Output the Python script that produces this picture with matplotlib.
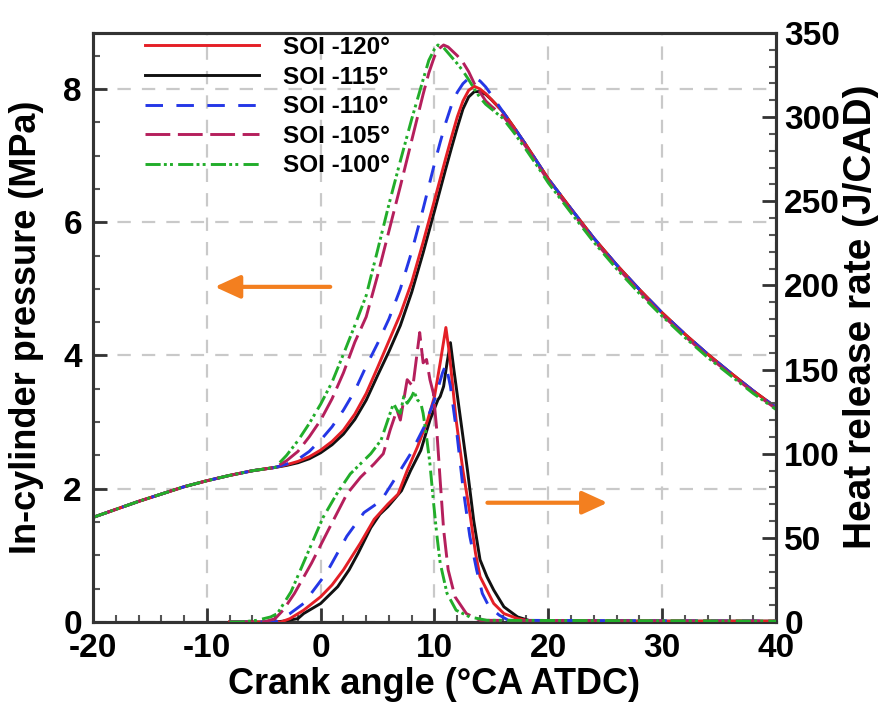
import matplotlib
matplotlib.use("Agg")
import matplotlib.pyplot as plt
from matplotlib.ticker import MultipleLocator

plt.rcParams['font.family'] = ['Liberation Sans', 'DejaVu Sans']
plt.rcParams['font.weight'] = 'bold'
plt.rcParams['axes.unicode_minus'] = False

# ---------------- data ----------------
labels = ["SOI -120°", "SOI -115°", "SOI -110°", "SOI -105°", "SOI -100°"]

# common motoring part of the pressure trace
x_motor = [-20, -18, -16, -14, -12, -10, -8, -6, -4]
p_motor = [1.57, 1.69, 1.81, 1.92, 2.03, 2.12, 2.20, 2.27, 2.32]

# shared expansion tail (crank angle)
x_exp = [16, 17, 18, 19, 20, 22, 24, 26, 28, 30, 32, 34, 36, 38, 40]
p_exp = [7.66, 7.42, 7.17, 6.91, 6.65, 6.20, 5.76, 5.36, 4.99, 4.64, 4.32, 4.02, 3.74, 3.47, 3.22]

# pressure after -4 deg (MPa)
x_p120 = [-3, -2, -1, 0, 1, 2, 3, 4, 5, 6, 7, 8, 9, 10, 10.5, 11, 11.5, 12, 12.5, 13, 13.5, 14, 14.5, 15]
p_p120 = [2.36, 2.41, 2.48, 2.58, 2.71, 2.88, 3.12, 3.43, 3.82, 4.22, 4.62, 5.10, 5.70, 6.33, 6.65, 6.97,
          7.28, 7.58, 7.82, 7.98, 8.04, 8.00, 7.93, 7.84]
x_p115 = [-3, -2, -1, 0, 1, 2, 3, 4, 5, 6, 7, 8, 9, 10, 10.5, 11, 11.5, 12, 12.5, 13, 13.5, 14, 14.5, 15]
p_p115 = [2.35, 2.39, 2.45, 2.54, 2.66, 2.82, 3.04, 3.33, 3.70, 4.06, 4.45, 4.95, 5.54, 6.17, 6.49, 6.81,
          7.12, 7.42, 7.70, 7.88, 7.96, 7.96, 7.92, 7.84]
x_p110 = [-3, -2, -1, 0, 1, 2, 3, 4, 5, 6, 7, 8, 9, 10, 10.5, 11, 11.5, 12, 12.5, 13, 13.4, 14, 14.5, 15]
p_p110 = [2.37, 2.44, 2.56, 2.73, 2.93, 3.18, 3.47, 3.84, 4.18, 4.55, 5.00, 5.56, 6.20, 6.88, 7.20, 7.50,
          7.76, 7.95, 8.08, 8.16, 8.18, 8.12, 8.03, 7.91]
x_p105 = [-3, -2, -1, 0, 1, 2, 3, 4, 5, 6, 7, 8, 9, 9.5, 10, 10.5, 10.8, 11.2, 12, 12.5, 13, 13.5, 14,
          14.5, 15]
p_p105 = [2.42, 2.56, 2.78, 3.03, 3.35, 3.74, 4.20, 4.58, 5.20, 5.87, 6.54, 7.23, 7.92, 8.24, 8.49, 8.62,
          8.66, 8.63, 8.50, 8.40, 8.26, 8.08, 7.95, 7.82, 7.74]
x_p100 = [-3, -2, -1, 0, 1, 2, 3, 4, 5, 6, 7, 8, 9, 9.5, 10, 10.3, 10.8, 11.5, 12, 12.5, 13, 13.5, 14,
          14.5, 15]
p_p100 = [2.50, 2.72, 2.98, 3.27, 3.60, 4.02, 4.45, 4.90, 5.58, 6.27, 6.92, 7.55, 8.14, 8.43, 8.60, 8.66,
          8.62, 8.48, 8.38, 8.27, 8.14, 8.00, 7.87, 7.77, 7.70]
p_exp_105 = [7.60, 7.38, 7.14, 6.88, 6.62, 6.17, 5.73, 5.33, 4.96, 4.61, 4.29, 3.99, 3.72, 3.45, 3.20]
p_exp_100 = [7.56, 7.34, 7.10, 6.85, 6.59, 6.14, 5.70, 5.30, 4.93, 4.59, 4.27, 3.97, 3.70, 3.43, 3.19]

# heat release rate (J/CAD)
x_h120 = [-8, -3.5, -2.7, -1.5, 0, 1, 2, 3.5, 4.7, 5.9, 6.8, 7.6, 8.5, 9.4, 10.0, 10.5, 11.0, 11.3, 11.6,
          11.9, 12.5, 13.1, 13.6, 14.0, 14.6, 15.2, 16.1, 17.3, 18.5, 40]
q_h120 = [0, 0, 2, 7, 15, 22, 31, 47, 61, 70, 76, 90, 104, 120, 134, 154, 175, 160, 140, 120, 90, 65, 41,
          27, 19, 11, 5, 2, 0.5, 0.5]
x_h115 = [-8, -4, -3.3, -2, -1.5, 0, 1.5, 2.5, 3.3, 4.4, 5.2, 5.9, 7.1, 7.9, 8.8, 9.6, 10.3, 10.5, 10.8,
          11.1, 11.4, 11.7, 12.3, 12.9, 13.45, 14.0, 14.6, 15.2, 16.1, 17.3, 18.5, 40]
q_h115 = [0, 0, 0.5, 2, 5, 11, 21, 31, 41, 56, 64, 68.5, 78, 90, 102, 120, 132, 134, 140, 154, 166, 150,
          120, 90, 60, 37, 27, 19, 9, 3, 0.5, 0.5]
x_h110 = [-8, -4, -2.7, -1.5, 0.5, 2.3, 3.8, 5.3, 6.8, 7.9, 9.1, 10.0, 10.7, 11.0, 11.4, 12.0, 12.5, 13.1,
          13.7, 14.2, 14.8, 15.7, 16.5, 40]
q_h110 = [0, 0, 5, 11, 29, 51, 65, 72, 88, 100, 116, 132, 148, 153, 140, 110, 80, 51, 31, 17, 9, 4, 1, 0.5]
x_h105 = [-8, -5, -4, -3.3, -2.3, -0.8, 0.7, 2.3, 3.5, 4.7, 5.5, 6.1, 6.7, 7.0, 7.6, 8.1, 8.4, 8.7, 9.0,
          9.3, 9.6, 9.9, 10.2, 10.5, 10.8, 11.2, 11.8, 12.8, 14.0, 40]
q_h105 = [0, 0, 2, 7, 17, 35, 55, 76, 86, 94, 100, 114, 126, 120, 144, 140, 156, 172, 154, 156, 144, 136,
          114, 84, 55, 31, 15, 5, 1, 0.5]
x_h100 = [-8, -7, -5.6, -4.4, -3.8, -2.6, -1.2, 0.2, 1.4, 2.6, 3.5, 4.4, 5.3, 5.9, 6.4, 6.7, 7.0, 7.3,
          7.6, 8.0, 8.2, 8.5, 8.8, 9.0, 9.3, 9.6, 9.9, 10.2, 10.5, 11.1, 11.9, 13.1, 14.6, 40]
q_h100 = [0, 0, 1, 3, 5, 18, 40, 62, 76, 88, 94, 100, 108, 120, 130, 126, 124, 134, 130, 134, 137, 132,
          130, 124, 110, 94, 72, 52, 35, 17, 7, 3, 1, 0.5]

x_ticks = [-20, -10, 0, 10, 20, 30, 40]
p_ticks = [0, 2, 4, 6, 8]
q_ticks = [0, 50, 100, 150, 200, 250, 300, 350]

# ---------------- styles ----------------
colors = ['#e41f26', '#111111', '#2437e6', '#b51f5c', '#22ad2a']
styles = ['-', '-', (0, (6.0, 4.6)), (0, (8.5, 2.6)), (0, (5.2, 1.1, 1.0, 1.1, 1.0, 1.8))]
LW = 2.1

fig = plt.figure(figsize=(8.79, 7.06), dpi=100)
ax = fig.add_axes([93 / 879, 1 - 622 / 706, 683 / 879, 589 / 706])
ax2 = ax.twinx()

px = [x_motor + x_p120 + x_exp, x_motor + x_p115 + x_exp, x_motor + x_p110 + x_exp,
      x_motor + x_p105 + x_exp, x_motor + x_p100 + x_exp]
py = [p_motor + p_p120 + p_exp, p_motor + p_p115 + p_exp, p_motor + p_p110 + p_exp,
      p_motor + p_p105 + p_exp_105, p_motor + p_p100 + p_exp_100]
hx = [x_h120, x_h115, x_h110, x_h105, x_h100]
hy = [q_h120, q_h115, q_h110, q_h105, q_h100]

order = [1, 0, 2, 3, 4]
plines = {}
for i in order:
    ln, = ax.plot(px[i], py[i], color=colors[i], linestyle=styles[i], lw=LW, zorder=3)
    plines[i] = ln
    ax2.plot(hx[i], hy[i], color=colors[i], linestyle=styles[i], lw=LW, zorder=3)
handles = [plines[i] for i in range(5)]

ax.set_xlim(-20, 40)
ax.set_ylim(0, 8.84)
ax2.set_ylim(0, 350)

ax.set_xticks(x_ticks)
ax.set_yticks(p_ticks)
ax2.set_yticks(q_ticks)
ax.xaxis.set_minor_locator(MultipleLocator(2))
ax.yaxis.set_minor_locator(MultipleLocator(0.5))
ax2.yaxis.set_minor_locator(MultipleLocator(10))

tick_kw = dict(direction='in', width=2, color='#333333', labelsize=24)
ax.tick_params(axis='x', which='major', length=10, pad=8, top=False, **tick_kw)
ax.tick_params(axis='x', which='minor', length=5, width=1.5, direction='in', color='#555555', top=False)
ax.tick_params(axis='y', which='major', length=10, pad=8, right=False, **tick_kw)
ax.tick_params(axis='y', which='minor', length=5, width=1.5, direction='in', color='#555555', right=False)
ax2.tick_params(axis='y', which='major', length=10, pad=6, **tick_kw)
ax2.tick_params(axis='y', which='minor', length=5, width=1.5, direction='in', color='#555555')
for lab in ax.get_xticklabels() + ax.get_yticklabels() + ax2.get_yticklabels():
    lab.set_fontweight('bold')

for a in (ax, ax2):
    for s in a.spines.values():
        s.set_linewidth(2.2)
        s.set_color('#333333')

ax.grid(True, which='major', color='#c9c9c9', linestyle=(0, (6, 5)), lw=1.6, zorder=0)
ax.set_axisbelow(True)

ax.set_xlabel("Crank angle (°CA ATDC)", fontsize=26, fontweight='bold')
ax.xaxis.set_label_coords(0.5, -0.077)
ax.set_ylabel("In-cylinder pressure (MPa)", fontsize=26, fontweight='bold')
ax.yaxis.set_label_coords(-0.072, 0.5)
ax2.set_ylabel("Heat release rate (J/CAD)", fontsize=28, fontweight='bold')
ax2.yaxis.set_label_coords(1.098, 0.519)

leg = ax2.legend(handles, labels, loc='upper left', bbox_to_anchor=(0.076, 0.995), frameon=False,
                 prop={'weight': 'bold', 'size': 17.5}, handlelength=4.7, handletextpad=1.0,
                 labelspacing=0.27, borderaxespad=0, borderpad=0)

arrow_kw = dict(arrowstyle='-|>,head_length=0.7,head_width=0.32', color='#f37f1f', lw=3,
                mutation_scale=22, shrinkA=0, shrinkB=0)
ax.annotate('', xy=(-9.3, 5.03), xytext=(0.84, 5.03), arrowprops=arrow_kw)
ax.annotate('', xy=(25.2, 1.79), xytext=(14.65, 1.79), arrowprops=arrow_kw)

fig.savefig("out.png", dpi=100)
